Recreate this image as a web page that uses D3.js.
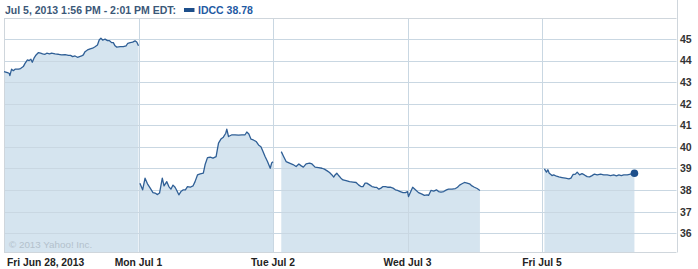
<!DOCTYPE html>
<html>
<head>
<meta charset="utf-8">
<script src="https://cdn.jsdelivr.net/npm/d3@7"></script>
<style>
  html, body { margin: 0; padding: 0; background: #fff; }
  svg { display: block; }
</style>
</head>
<body>
<svg id="chart" width="698" height="269"></svg>
<script>
// ---- Data (minutes since 9:30 open, price) ----
const dayLabels = ["Fri Jun 28, 2013", "Mon Jul 1", "Tue Jul 2", "Wed Jul 3", "Fri Jul 5"];
const yTicks = [36, 37, 38, 39, 40, 41, 42, 43, 44, 45];
const headerText = "Jul 5, 2013 1:56 PM - 2:01 PM EDT:";
const seriesName = "IDCC";
const lastValue = 38.78;
const copyright = "\u00A9 2013 Yahoo! Inc.";

const friJun28 = [[0,43.49],[10,43.44],[15,43.41],[17,43.30],[22,43.60],[27,43.53],[32,43.60],[42,43.60],[48,43.63],[56,43.72],[61,43.87],[68,44.03],[73,44.00],[78,44.06],[82,43.92],[87,44.11],[93,44.26],[100,44.37],[106,44.34],[112,44.31],[119,44.29],[124,44.34],[132,44.31],[138,44.34],[148,44.31],[158,44.29],[167,44.26],[177,44.27],[187,44.24],[193,44.24],[199,44.18],[206,44.21],[213,44.15],[219,44.18],[225,44.21],[230,44.26],[235,44.41],[242,44.49],[250,44.54],[257,44.57],[264,44.64],[271,44.72],[276,44.95],[281,45.03],[286,44.95],[293,44.99],[300,44.92],[306,44.92],[312,44.83],[317,44.83],[322,44.68],[327,44.62],[337,44.64],[346,44.64],[354,44.68],[359,44.80],[366,44.83],[373,44.85],[380,44.91],[385,44.86],[390,44.68]];
const monJul1 = [[4,38.32],[12,38.01],[19,38.55],[26,38.29],[34,38.09],[42,37.88],[48,37.86],[55,37.79],[61,37.86],[69,38.55],[74,38.19],[82,38.39],[88,38.16],[94,38.04],[100,38.23],[106,38.13],[111,37.98],[117,37.78],[123,37.93],[130,38.01],[136,38.01],[142,38.16],[150,38.13],[158,38.19],[164,38.39],[171,38.70],[179,38.75],[188,38.78],[193,39.17],[200,39.50],[208,39.52],[216,39.48],[225,39.55],[232,40.17],[239,40.36],[246,40.45],[253,40.63],[256,40.82],[261,40.48],[271,40.56],[280,40.56],[290,40.54],[300,40.56],[309,40.56],[314,40.69],[320,40.60],[326,40.36],[333,40.32],[341,40.25],[348,40.09],[355,40.01],[361,39.78],[367,39.55],[374,39.32],[382,39.01],[386,39.25],[390,39.31]];
const tueJul2 = [[24,39.78],[30,39.58],[38,39.32],[48,39.25],[58,39.18],[67,39.09],[75,39.21],[82,39.12],[88,39.06],[96,39.21],[106,39.25],[113,39.21],[122,39.06],[132,39.04],[142,39.01],[149,38.97],[156,38.90],[164,38.81],[171,38.70],[176,38.60],[180,38.70],[185,38.78],[191,38.66],[197,38.55],[203,38.47],[212,38.44],[222,38.39],[232,38.37],[241,38.35],[248,38.24],[255,38.16],[261,38.16],[267,38.32],[272,38.32],[280,38.24],[287,38.16],[294,38.13],[301,38.12],[307,38.04],[313,38.09],[319,38.16],[326,38.16],[332,38.13],[340,38.13],[348,38.09],[355,38.01],[361,37.98],[369,37.93],[377,37.88],[384,37.88],[390,37.93]];
const wedJul3 = [[3,37.70],[15,38.13],[23,38.01],[32,37.88],[42,37.81],[49,37.75],[57,37.78],[61,37.75],[68,37.98],[76,37.95],[84,38.01],[90,37.93],[97,37.90],[105,37.93],[113,38.01],[119,38.04],[129,38.04],[139,38.07],[145,38.13],[151,38.23],[158,38.29],[165,38.35],[173,38.32],[180,38.29],[187,38.19],[194,38.13],[202,38.07],[210,37.98]];
const friJul5 = [[7,38.98],[13,38.83],[17,38.94],[21,38.78],[24,38.74],[29,38.67],[34,38.70],[42,38.64],[49,38.61],[58,38.58],[68,38.55],[78,38.52],[84,38.55],[90,38.72],[97,38.74],[102,38.83],[109,38.70],[116,38.76],[123,38.70],[131,38.62],[138,38.61],[145,38.67],[152,38.74],[160,38.70],[170,38.74],[179,38.70],[189,38.70],[199,38.67],[208,38.70],[216,38.66],[223,38.70],[230,38.67],[237,38.70],[247,38.70],[257,38.74],[268,38.78]];

const days = [friJun28, monJul1, tueJul2, wedJul3, friJul5];
// which trading days are drawn as one connected piece
const segmentDays = [[0], [1], [2, 3], [4]];
const minutesPerDay = 390;

// ---- Layout ----
const svg = d3.select("#chart");
const plotLeft = 4, plotRight = 676.5, plotTop = 18, plotBottom = 252;

const x = d3.scaleLinear().domain([0, minutesPerDay * days.length]).range([plotLeft, plotRight]);
const y = d3.scaleLinear().domain([35.13, 45.97]).range([plotBottom, plotTop]);

const gridColor = "#c9d7e2";
const borderColor = "#cfd6dc";
const fillColor = "#d5e4ef";
const lineColor = "#2f5f96";

// segments with absolute minute
const segments = segmentDays.map(ds => ds.flatMap(d => days[d].map(p => ({t: d * minutesPerDay + p[0], v: p[1]}))));

// fill areas
const area = d3.area().x(d => x(d.t)).y0(plotBottom).y1(d => y(d.v));
svg.append("g").selectAll("path").data(segments).join("path")
  .attr("d", area).attr("fill", fillColor);

// horizontal gridlines
svg.append("g").selectAll("line").data(yTicks).join("line")
  .attr("x1", plotLeft).attr("x2", plotRight)
  .attr("y1", d => Math.round(y(d)) + 0.5).attr("y2", d => Math.round(y(d)) + 0.5)
  .attr("stroke", gridColor).attr("stroke-width", 1);

// vertical day gridlines
const dayBounds = d3.range(1, days.length).map(i => i * minutesPerDay);
svg.append("g").selectAll("line").data(dayBounds).join("line")
  .attr("x1", d => Math.round(x(d)) + 0.5).attr("x2", d => Math.round(x(d)) + 0.5)
  .attr("y1", plotTop).attr("y2", plotBottom)
  .attr("stroke", gridColor).attr("stroke-width", 1);

// borders
const b = svg.append("g").attr("stroke", borderColor).attr("stroke-width", 1).attr("fill", "none");
b.append("line").attr("x1", plotLeft + 0.5).attr("x2", plotLeft + 0.5).attr("y1", plotTop).attr("y2", plotBottom + 0.5);
b.append("line").attr("x1", plotLeft).attr("x2", plotRight).attr("y1", plotBottom + 0.5).attr("y2", plotBottom + 0.5);
b.append("line").attr("x1", plotLeft).attr("x2", plotRight).attr("y1", plotTop + 0.5).attr("y2", plotTop + 0.5);
b.append("line").attr("x1", Math.round(plotRight) + 0.5).attr("x2", Math.round(plotRight) + 0.5).attr("y1", 0).attr("y2", plotBottom + 0.5);

// copyright watermark
svg.append("text").attr("x", 9).attr("y", 247.5)
  .attr("font-family", "'Liberation Sans', Arial, sans-serif").attr("font-size", "9.8px")
  .attr("fill", "#b3c1cc").text(copyright);

// price lines
const line = d3.line().x(d => x(d.t)).y(d => y(d.v));
svg.append("g").selectAll("path").data(segments).join("path")
  .attr("d", line).attr("fill", "none").attr("stroke", lineColor)
  .attr("stroke-width", 1.3).attr("stroke-linejoin", "round");

// end dot
const lastSeg = segments[segments.length - 1];
const lastPt = lastSeg[lastSeg.length - 1];
svg.append("circle").attr("cx", x(lastPt.t)).attr("cy", y(lastPt.v)).attr("r", 3.8).attr("fill", "#1d4f8b");

// right axis
const yAxis = d3.axisRight(y).tickValues(yTicks).tickSize(0).tickPadding(3).tickFormat(d3.format("d"));
const ya = svg.append("g").attr("transform", `translate(${Math.round(plotRight)},0)`).call(yAxis);
ya.select(".domain").remove();
ya.selectAll("text").attr("font-family", "'Liberation Sans', Arial, sans-serif")
  .attr("font-size", "10.5px").attr("font-weight", "bold").attr("fill", "#333");

// x labels
svg.append("g").selectAll("text").data(dayLabels).join("text")
  .attr("x", (d, i) => i === 0 ? x(0) + 3 : x(i * minutesPerDay))
  .attr("y", 266)
  .attr("text-anchor", (d, i) => i === 0 ? "start" : "middle")
  .attr("font-family", "'Liberation Sans', Arial, sans-serif").attr("font-size", "10.3px")
  .attr("font-weight", "bold").attr("fill", "#222").text(d => d);

// header
const hdr = svg.append("g").attr("font-family", "'Liberation Sans', Arial, sans-serif")
  .attr("font-size", "10.5px").attr("font-weight", "bold");
const hText = hdr.append("text").attr("x", 5).attr("y", 13.5).attr("fill", "#3b5878").text(headerText);
const hw = hText.node().getComputedTextLength();
hdr.append("rect").attr("x", 5 + hw + 8).attr("y", 8).attr("width", 10.5).attr("height", 4).attr("fill", "#1d4f8b");
hdr.append("text").attr("x", 5 + hw + 22).attr("y", 13.5).attr("fill", "#1f5aa3")
  .text(seriesName + " " + lastValue.toFixed(2));
</script>
</body>
</html>
